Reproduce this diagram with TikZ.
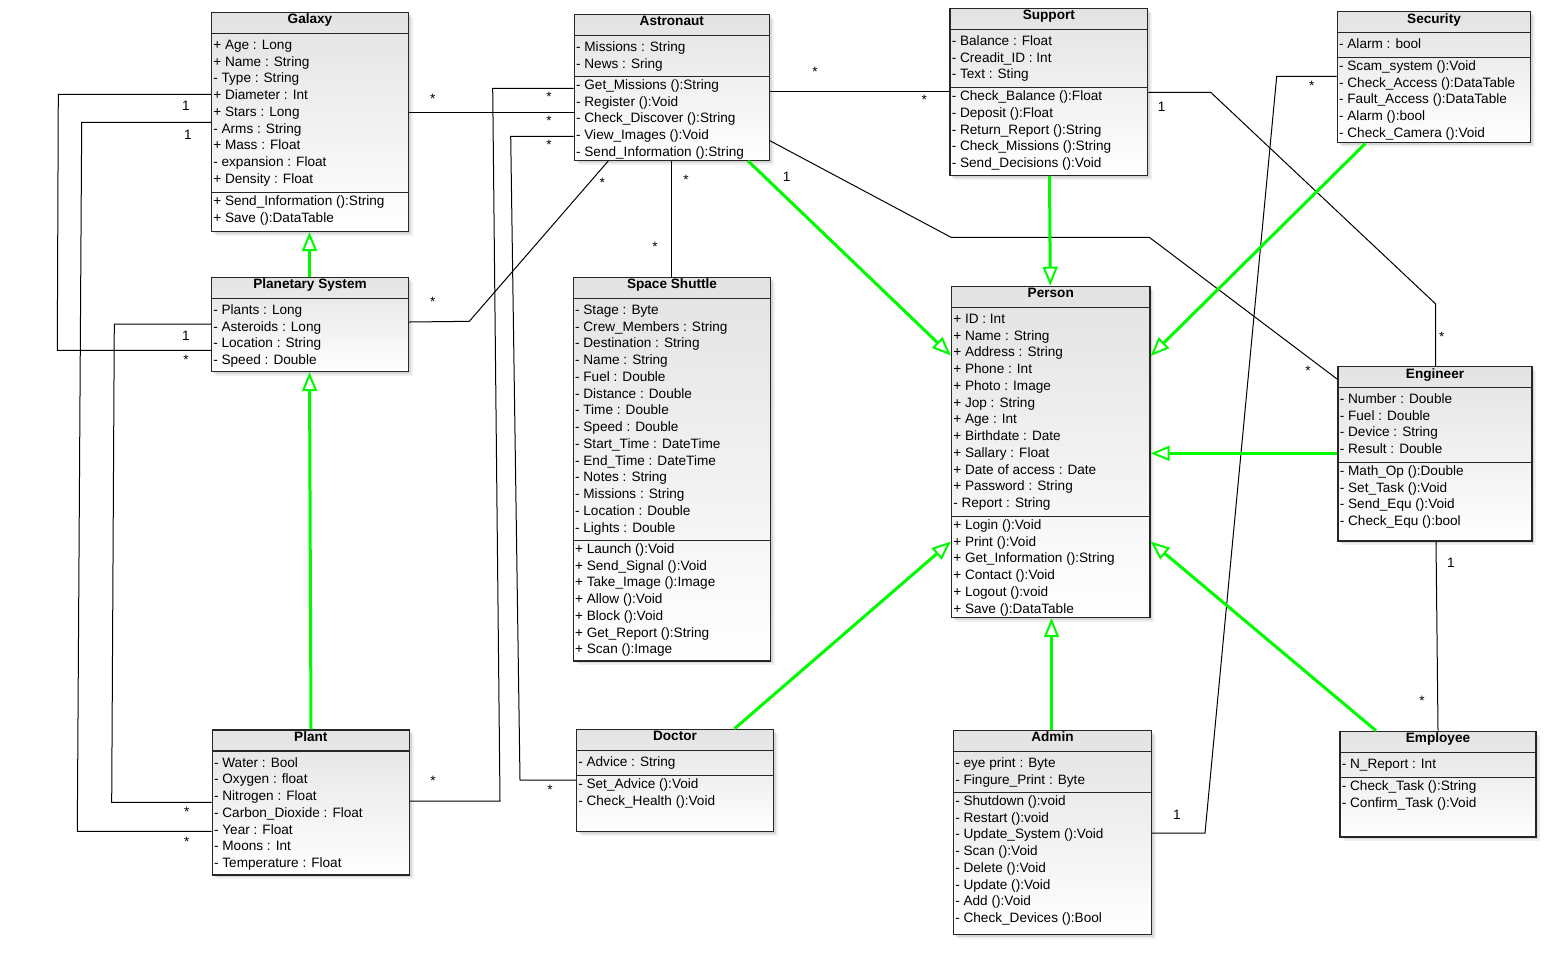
\documentclass[tikz,border=0pt]{standalone}
\usepackage{fontspec}
\setmainfont{Liberation Sans}
\usetikzlibrary{arrows.meta,calc,fit,shadows}
\definecolor{gen}{RGB}{0,250,0}
\tikzset{
  classbox/.style={draw=black!85, line width=0.6pt, inner sep=0pt,
    top color=black!11, bottom color=white,
    drop shadow={shadow xshift=2.2pt, shadow yshift=-2.2pt, opacity=0.12},
    drop shadow={shadow xshift=1.1pt, shadow yshift=-1.1pt, opacity=0.22}},
  rule/.style={draw=black!85, line width=0.6pt},
  ctitle/.style={anchor=base, inner sep=0pt, font=\fontsize{6.8}{8}\selectfont\bfseries},
  crow/.style={anchor=base west, inner sep=0pt, font=\fontsize{6.8}{8}\selectfont},
  assoc/.style={draw=black, line width=0.5pt},
  genarrow/.style={draw=gen, line width=1.5pt,
    -{Triangle[open, length=9.5pt, width=7.5pt, line width=1pt]}},
  mult/.style={inner sep=0pt, font=\fontsize{6.8}{8}\selectfont},
}
% class frame: name, left, top, right, bottom, header rule, title
\newcommand\umlbox[7]{%
  \node[classbox, fit={(#2,#3) (#4,#5)}] (#1) {};
  \draw[rule] (#1.west |- 0,#6) -- (#1.east |- 0,#6);
  \node[ctitle] (#1-title) at ($(#1.north)+(0,12)$) {#7};
}
% compartment separator
\newcommand\umlsep[2]{\draw[rule] (#1.west |- 0,#2) -- (#1.east |- 0,#2);}
% compartment rows: class name, tag, centre of first row, texts
\newcommand\umlrows[4]{%
  \foreach \rowtext [count=\k] in {#4}{%
    \pgfmathsetmacro\rowy{#3+(\k-1)*16.75+5}
    \node[crow, xshift=1pt] (#1-#2\k) at (#1.west |- 0,\rowy) {\rowtext};
  }%
}
\begin{document}
\begin{tikzpicture}[x=0.5pt, y=-0.5pt]
\useasboundingbox (0,0) rectangle (1561,960);

% ---------- classes ----------
\umlbox{galaxy}{211.5}{12.3}{408.5}{231.5}{33.3}{Galaxy}
\umlsep{galaxy}{192.3}
\umlrows{galaxy}{a}{44.3}{+ Age : Long, + Name : String, - Type : String, + Diameter : Int, + Stars : Long, - Arms : String, + Mass : Float, - expansion : Float, + Density : Float}
\umlrows{galaxy}{m}{200.3}{+ Send\_Information ():String, + Save ():DataTable}

\umlbox{plansys}{211.5}{277.3}{408.5}{371.5}{298.3}{Planetary System}
\umlrows{plansys}{a}{309.3}{- Plants : Long, - Asteroids : Long, - Location : String, - Speed : Double}

\umlbox{plant}{212.3}{730}{409.3}{875}{751}{Plant}
\umlrows{plant}{a}{762}{- Water : Bool, - Oxygen : float, - Nitrogen : Float, - Carbon\_Dioxide : Float, - Year : Float, - Moons : Int, - Temperature : Float}

\umlbox{astronaut}{574.3}{14.3}{769.3}{160.3}{35.3}{Astronaut}
\umlsep{astronaut}{76.3}
\umlrows{astronaut}{a}{46.3}{- Missions : String, - News : Sring}
\umlrows{astronaut}{m}{84.3}{- Get\_Missions ():String, - Register ():Void, - Check\_Discover ():String, - View\_Images ():Void, - Send\_Information ():String}

\umlbox{support}{950}{8.3}{1147.7}{175.3}{29.3}{Support}
\umlsep{support}{87.7}
\umlrows{support}{a}{40.3}{- Balance : Float, - Creadit\_ID : Int, - Text : Sting}
\umlrows{support}{m}{95.5}{- Check\_Balance ():Float, - Deposit ():Float, - Return\_Report ():String, - Check\_Missions ():String, - Send\_Decisions ():Void}

\umlbox{security}{1337.3}{11.7}{1530.7}{142.7}{32.3}{Security}
\umlsep{security}{57.3}
\umlrows{security}{a}{43.3}{- Alarm : bool}
\umlrows{security}{m}{65.3}{- Scam\_system ():Void, - Check\_Access ():DataTable, - Fault\_Access ():DataTable, - Alarm ():bool, - Check\_Camera ():Void}

\umlbox{shuttle}{573.3}{277.3}{770.7}{661}{298.3}{Space Shuttle}
\umlsep{shuttle}{540.3}
\umlrows{shuttle}{a}{309.3}{- Stage : Byte, - Crew\_Members : String, - Destination : String, - Name : String, - Fuel : Double, - Distance : Double, - Time : Double, - Speed : Double, - Start\_Time : DateTime, - End\_Time : DateTime, - Notes : String, - Missions : String, - Location : Double, - Lights : Double}
\umlrows{shuttle}{m}{548.3}{+ Launch ():Void, + Send\_Signal ():Void, + Take\_Image ():Image, + Allow ():Void, + Block ():Void, + Get\_Report ():String, + Scan ():Image}

\umlbox{person}{951.5}{286.3}{1150}{617.5}{307.3}{Person}
\umlsep{person}{516.3}
\umlrows{person}{a}{318.3}{+ ID : Int, + Name : String, + Address : String, + Phone : Int, + Photo : Image, + Jop : String, + Age : Int, + Birthdate : Date, + Sallary : Float, + Date of access : Date, + Password : String, - Report : String}
\umlrows{person}{m}{524.3}{+ Login ():Void, + Print ():Void, + Get\_Information ():String, + Contact ():Void, + Logout ():void, + Save ():DataTable}

\umlbox{engineer}{1338}{366.7}{1532}{541}{387.3}{Engineer}
\umlsep{engineer}{462.3}
\umlrows{engineer}{a}{398.3}{- Number : Double, - Fuel : Double, - Device : String, - Result : Double}
\umlrows{engineer}{m}{470.3}{- Math\_Op ():Double, - Set\_Task ():Void, - Send\_Equ ():Void, - Check\_Equ ():bool}

\umlbox{doctor}{576.5}{729.3}{773.5}{831.3}{750.3}{Doctor}
\umlsep{doctor}{775.7}
\umlrows{doctor}{a}{761.3}{- Advice : String}
\umlrows{doctor}{m}{783.7}{- Set\_Advice ():Void, - Check\_Health ():Void}

\umlbox{admin}{953.5}{730.3}{1151.5}{934.3}{751.3}{Admin}
\umlsep{admin}{792.3}
\umlrows{admin}{a}{762.3}{- eye print : Byte, - Fingure\_Print : Byte}
\umlrows{admin}{m}{800.3}{- Shutdown ():void, - Restart ():void, - Update\_System ():Void, - Scan ():Void, - Delete ():Void, - Update ():Void, - Add ():Void, - Check\_Devices ():Bool}

\umlbox{employee}{1340}{731.3}{1536}{837}{752.3}{Employee}
\umlsep{employee}{777.3}
\umlrows{employee}{a}{763.3}{- N\_Report : Int}
\umlrows{employee}{m}{785.3}{- Check\_Task ():String, - Confirm\_Task ():Void}

% ---------- associations ----------
\draw[assoc] (galaxy.west |- 0,94.3) -- (58.3,94.3) -- (57.3,350.3) -- (plansys.west |- 0,350.3);
\node[mult] (m1a) at (186,106) {1};
\node[mult] (m1b) at (186,360) {*};

\draw[assoc] (galaxy.west |- 0,122.3) -- (81.7,122.3) -- (77.3,831.3) -- (plant.west |- 0,831.3);
\node[mult] (m2a) at (188,135) {1};
\node[mult] (m2b) at (186.7,842) {*};

\draw[assoc] (plansys.west |- 0,324) -- (114.3,324) -- (111.7,802.3) -- (plant.west |- 0,802.3);
\node[mult] (m3a) at (186,336) {1};
\node[mult] (m3b) at (186.7,812) {*};

\draw[assoc] (galaxy.east |- 0,112.3) -- (astronaut.west |- 0,112.3);
\node[mult] (m4a) at (432.7,99) {*};
\node[mult] (m4b) at (549,121) {*};

\draw[assoc] (astronaut.west |- 0,88.3) -- (492.7,88.3) -- (500,801) -- (plant.east |- 0,801);
\node[mult] (m5a) at (549,97) {*};
\node[mult] (m5b) at (433,781) {*};

\draw[assoc] (astronaut.west |- 0,136.3) -- (510.7,136.3) -- (520,780) -- (doctor.west |- 0,780);
\node[mult] (m6a) at (549,145) {*};
\node[mult] (m6b) at (550,790) {*};

\draw[assoc] (astronaut.south -| 608.3,0) -- (469.3,321.3) -- (plansys.east |- 0,322);
\node[mult] (m7a) at (602.3,183) {*};
\node[mult] (m7b) at (432.7,302) {*};

\draw[assoc] (astronaut.south -| 671.7,0) -- (shuttle.north -| 671.7,0);
\node[mult] (m8a) at (686,180) {*};
\node[mult] (m8b) at (655,247) {*};

\draw[assoc] (astronaut.east |- 0,91) -- (support.west |- 0,91);
\node[mult] (m9a) at (815,72) {*};
\node[mult] (m9b) at (924.3,100) {*};

\draw[assoc] (astronaut.east |- 0,140.7) -- (951,237.3) -- (1149.3,237.3) -- (engineer.west |- 0,379.3);
\node[mult] (m10a) at (786.7,177.3) {1};
\node[mult] (m10b) at (1308,371) {*};

\draw[assoc] (support.east |- 0,92.3) -- (1210.7,92.3) -- (1435.7,304) -- (engineer.north -| 1435.7,0);
\node[mult] (m11a) at (1161.7,107.3) {1};
\node[mult] (m11b) at (1441.7,337.3) {*};

\draw[assoc] (security.west |- 0,76.3) -- (1276.7,76.3) -- (1205,833) -- (admin.east |- 0,833);
\node[mult] (m12a) at (1311.7,85.7) {*};
\node[mult] (m12b) at (1177,815) {1};

\draw[assoc] (engineer.south -| 1436,0) -- (employee.north -| 1438,0);
\node[mult] (m13a) at (1451,563) {1};
\node[mult] (m13b) at (1422,701) {*};

% ---------- generalizations ----------
\draw[genarrow] (plansys.north -| 309.5,0) -- (galaxy.south -| 309.5,0);
\draw[genarrow] (plant.north -| 311,0) -- (plansys.south -| 309.5,0);
\draw[genarrow] (astronaut.south -| 748,0) -- (person.west |- 0,355.5);
\draw[genarrow] (support.south -| 1049.5,0) -- (person.north -| 1050.3,0);
\draw[genarrow] (security.south -| 1365.5,0) -- (person.east |- 0,356);
\draw[genarrow] (engineer.west |- 0,453.3) -- (person.east |- 0,453.3);
\draw[genarrow] (doctor.north -| 734.5,0) -- (person.west |- 0,541.5);
\draw[genarrow] (admin.north -| 1051.5,0) -- (person.south -| 1051.5,0);
\draw[genarrow] (employee.north -| 1376,0) -- (person.east |- 0,541.5);
\end{tikzpicture}
\end{document}
